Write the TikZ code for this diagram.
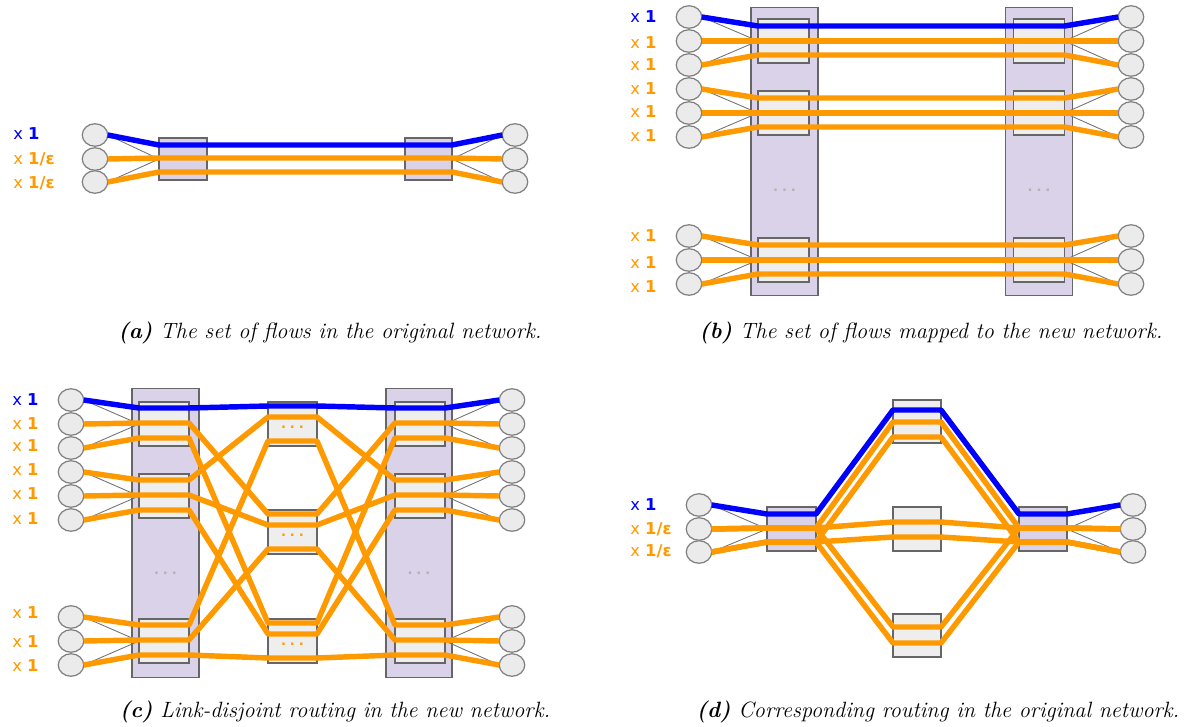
\documentclass[tikz,border=0pt]{standalone}
\usepackage{fontspec}
\newfontfamily\lblfont{DejaVu Sans}
\usepackage{tikz}
\usetikzlibrary{calc,shapes.geometric}
\definecolor{flowblue}{RGB}{0,0,255}
\definecolor{floworange}{RGB}{255,153,0}
\definecolor{swfill}{RGB}{238,238,238}
\definecolor{colfill}{RGB}{217,210,233}
\definecolor{hostfill}{RGB}{235,235,235}
% three lanes through a box: (box-w1) .. (box-e3)
\def\lanes#1#2#3#4{%
  \coordinate (#1-w1) at ($(#1.west)+(0,#2)$);
  \coordinate (#1-e1) at ($(#1.east)+(0,#2)$);
  \coordinate (#1-w2) at ($(#1.west)+(0,#3)$);
  \coordinate (#1-e2) at ($(#1.east)+(0,#3)$);
  \coordinate (#1-w3) at ($(#1.west)+(0,#4)$);
  \coordinate (#1-e3) at ($(#1.east)+(0,#4)$);}
\def\moredots{.\hspace{2.2pt}.\hspace{2.2pt}.}

\begin{document}
\begin{tikzpicture}[x=0.02cm,y=-0.02cm,
	host/.style={ellipse,draw=black!50,fill=hostfill,line width=0.7pt,minimum width=0.51cm,minimum height=0.45cm,inner sep=0pt,outer sep=0pt},
	colbox/.style={rectangle,draw=black!60,fill=colfill,line width=0.7pt,minimum width=1.34cm,minimum height=5.77cm,inner sep=0pt,outer sep=0pt},
	swbox/.style={rectangle,draw=black!60,fill=swfill,line width=0.7pt,minimum width=1cm,minimum height=0.88cm,inner sep=0pt,outer sep=0pt},
	oflow/.style={draw=floworange,line width=3.1pt,line join=round},
	bflow/.style={draw=flowblue,line width=3.1pt,line join=round},
	wire/.style={draw=black!55,line width=0.5pt},
	mult/.style={anchor=west,inner sep=0pt,font=\lblfont\fontsize{9.3}{10}\selectfont},
	ellip/.style={inner sep=0pt,font=\lblfont\bfseries\fontsize{7.5}{8}\selectfont},
	capt/.style={inner sep=0pt,font=\fontsize{12.6}{14}\selectfont\itshape}]
		\useasboundingbox (0,0) rectangle (1201,727);
		%%%%% (a) %%%%%
		\foreach \i/\y in {1/135,2/159,3/182} {
			\node[host] (aL\i) at (95,\y) {};
			\node[host] (aR\i) at (515,\y) {};
		}
		\node[swbox,fill=colfill,minimum width=0.96cm,minimum height=0.84cm] (aBL) at (183,159) {};
		\node[swbox,fill=colfill,minimum width=0.94cm,minimum height=0.84cm] (aBR) at (428.5,159) {};
		\lanes{aBL}{-14}{-1}{13}
		\lanes{aBR}{-14}{-1}{13}
		\draw[wire] (aL1.east) -- (aBL.west);
		\draw[wire] (aL3.east) -- (aBL.west);
		\draw[wire] (aBR.east) -- (aR1.west);
		\draw[wire] (aBR.east) -- (aR3.west);
		\foreach \j in {2,3}
			\draw[oflow] (aL\j.east) -- (aBL-w\j) -- (aBR-e\j) -- (aR\j.west);
		\draw[bflow] (aL1.east) -- (aBL-w1) -- (aBR-e1) -- (aR1.west);
		\node[mult,text=flowblue] (aM1) at (13,134) {x \textbf{1}};
		\node[mult,text=floworange] (aM2) at (13,159) {x \textbf{1/ε}};
		\node[mult,text=floworange] (aM3) at (13,183) {x \textbf{1/ε}};
		\node[capt] (aCap) at (330,333) {\textbf{(a)} The set of flows in the original network.};
		
		%%%%% (b) %%%%%
		\node[colbox] (bCL) at (784.5,151.5) {};
		\node[colbox] (bCR) at (1039,151.5) {};
		\node[ellip,text=black!30] (bDL) at (784.5,190) {\moredots};
		\node[ellip,text=black!30] (bDR) at (1039,190) {\moredots};
		\foreach \k/\y in {1/17,2/41,3/65,4/89,5/113,6/137,7/236,8/260,9/284} {
			\node[host] (bL\k) at (689,\y) {};
			\node[host] (bR\k) at (1131,\y) {};
		}
		\foreach \b/\y in {1/41,2/113,3/260} {
			\node[swbox,minimum width=1.02cm] (bBL\b) at (783.5,\y) {};
			\node[swbox,minimum width=1.02cm] (bBR\b) at (1039,\y) {};
			\lanes{bBL\b}{-15}{0}{14}
			\lanes{bBR\b}{-15}{0}{14}
		}
		\foreach \b/\u/\v in {1/1/3,2/4/6,3/7/9} {
			\draw[wire] (bL\u.east) -- (bBL\b.west);
			\draw[wire] (bL\v.east) -- (bBL\b.west);
			\draw[wire] (bBR\b.east) -- (bR\u.west);
			\draw[wire] (bBR\b.east) -- (bR\v.west);
		}
		\foreach \b/\j/\k in {1/2/2,1/3/3,2/1/4,2/2/5,2/3/6,3/1/7,3/2/8,3/3/9}
			\draw[oflow] (bL\k.east) -- (bBL\b-w\j) -- (bBR\b-e\j) -- (bR\k.west);
		\draw[bflow] (bL1.east) -- (bBL1-w1) -- (bBR1-e1) -- (bR1.west);
		\node[mult,text=flowblue] (bM1) at (630,17) {x \textbf{1}};
		\foreach \k/\y in {2/43,3/65,4/89,5/112,6/136,7/236,8/263,9/287}
			\node[mult,text=floworange] (bM\k) at (630,\y) {x \textbf{1}};
		\node[capt] (bCap) at (931,333) {\textbf{(b)} The set of flows mapped to the new network.};
		
		%%%%% (c) %%%%%
		\node[colbox] (cCL) at (165.5,533) {};
		\node[colbox,minimum width=1.32cm] (cCR) at (419,533) {};
		\node[ellip,text=black!30] (cDL) at (165.5,573) {\moredots};
		\node[ellip,text=black!30] (cDR) at (419,573) {\moredots};
		\foreach \k/\y in {1/400,2/424,3/448,4/472,5/496,6/520,7/617,8/641,9/665} {
			\node[host] (cL\k) at (71,\y) {};
			\node[host] (cR\k) at (512,\y) {};
		}
		\foreach \b/\y/\z in {1/424/424,2/496/532,3/641/641} {
			\node[swbox] (cBL\b) at (164,\y) {};
			\node[swbox] (cBR\b) at (420,\y) {};
			\node[swbox,minimum width=0.98cm] (cM\b) at (292.5,\z) {};
			\node[ellip,text=floworange] (cD\b) at (292.5,\z+3) {\moredots};
			\lanes{cBL\b}{-16}{-1}{14}
			\lanes{cBR\b}{-16}{-1}{14}
			\lanes{cM\b}{-18}{-7}{17}
		}
		\foreach \b/\u/\v in {1/1/3,2/4/6,3/7/9} {
			\draw[wire] (cL\u.east) -- (cBL\b.west);
			\draw[wire] (cL\v.east) -- (cBL\b.west);
			\draw[wire] (cBR\b.east) -- (cR\u.west);
			\draw[wire] (cBR\b.east) -- (cR\v.west);
		}
		\foreach \b/\j/\k in {1/2/2,1/3/3,2/1/4,2/2/5,2/3/6,3/1/7,3/2/8,3/3/9}
			\draw[oflow] (cL\k.east) -- (cBL\b-w\j) -- (cBL\b-e\j) -- (cM\j-w\b) -- (cM\j-e\b)
				-- (cBR\b-w\j) -- (cBR\b-e\j) -- (cR\k.west);
		\draw[bflow] (cL1.east) -- (cBL1-w1) -- (cBL1-e1) -- (cM1-w1) -- (cM1-e1)
			-- (cBR1-w1) -- (cBR1-e1) -- (cR1.west);
		\node[mult,text=flowblue] (cM1l) at (12,400) {x \textbf{1}};
		\foreach \k/\y in {2/424,3/446,4/470,5/494,6/519,7/613,8/642,9/666}
			\node[mult,text=floworange] (cM\k l) at (12,\y) {x \textbf{1}};
		\node[capt] (cCap) at (335,712) {\textbf{(c)} Link-disjoint routing in the new network.};
		
		%%%%% (d) %%%%%
		\foreach \i/\y in {1/505,2/529,3/552} {
			\node[host] (dL\i) at (699,\y) {};
			\node[host] (dR\i) at (1133,\y) {};
		}
		\node[swbox,fill=colfill,minimum width=0.98cm] (dBL) at (791.5,529) {};
		\node[swbox,fill=colfill,minimum width=0.96cm] (dBR) at (1043,529) {};
		\node[swbox,minimum width=0.96cm,minimum height=0.86cm] (dM1) at (917,421.5) {};
		\node[swbox,minimum width=0.96cm] (dM2) at (917,529) {};
		\node[swbox,minimum width=0.96cm,minimum height=0.86cm] (dM3) at (917,635.5) {};
		\lanes{dBL}{-15}{-1}{13}
		\lanes{dBR}{-15}{-1}{13}
		\lanes{dM1}{-11.5}{0.5}{15.5}
		\lanes{dM2}{-20}{-7}{8}
		\lanes{dM3}{-20}{-8.5}{7.5}
		\draw[wire] (dL1.east) -- (dBL.west);
		\draw[wire] (dL3.east) -- (dBL.west);
		\draw[wire] (dBR.east) -- (dR1.west);
		\draw[wire] (dBR.east) -- (dR3.west);
		\foreach \j in {2,3}
			\foreach \m in {1,2,3}
				\draw[oflow] (dL\j.east) -- (dBL-w\j) -- (dBL-e\j) -- (dM\m-w\j) -- (dM\m-e\j)
					-- (dBR-w\j) -- (dBR-e\j) -- (dR\j.west);
		\draw[bflow] (dL1.east) -- (dBL-w1) -- (dBL-e1) -- (dM1-w1) -- (dM1-e1)
			-- (dBR-w1) -- (dBR-e1) -- (dR1.west);
		\node[mult,text=flowblue] (dM1l) at (630,505) {x \textbf{1}};
		\node[mult,text=floworange] (dM2l) at (630,529) {x \textbf{1/ε}};
		\node[mult,text=floworange] (dM3l) at (630,551) {x \textbf{1/ε}};
		\node[capt] (dCap) at (938,712) {\textbf{(d)} Corresponding routing in the original network.};
\end{tikzpicture}
\end{document}
